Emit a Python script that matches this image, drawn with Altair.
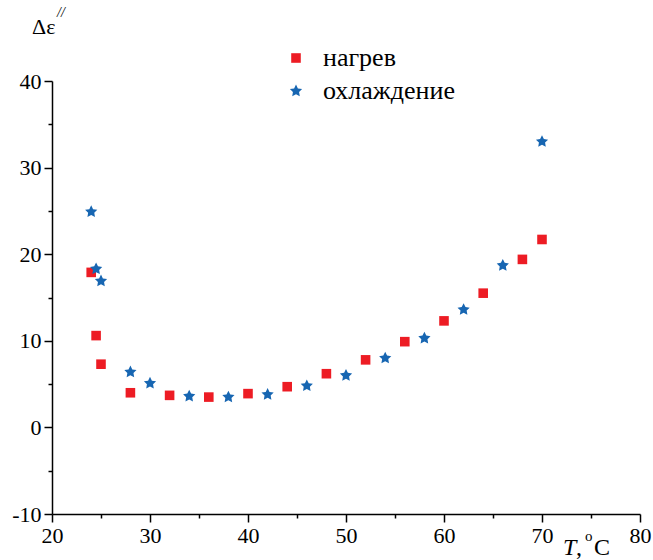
import altair as alt
import pandas as pd

series_names = ["нагрев", "охлаждение"]
series_colors = ["#ED1C24", "#1766B2"]

heat_T = [24, 24.5, 25, 28, 32, 36, 40, 44, 48, 52, 56, 60, 64, 68, 70]
heat_d = [17.9, 10.6, 7.3, 4.0, 3.7, 3.5, 3.9, 4.7, 6.2, 7.8, 9.9, 12.3, 15.5, 19.4, 21.7]
cool_T = [24, 24.5, 25, 28, 30, 34, 38, 42, 46, 50, 54, 58, 62, 66, 70]
cool_d = [24.9, 18.3, 16.9, 6.4, 5.1, 3.6, 3.5, 3.8, 4.8, 6.0, 8.0, 10.3, 13.6, 18.7, 33.0]

x_ticks = list(range(20, 81, 5))
y_ticks = list(range(-10, 41, 5))

STAR = ("M0,-1L0.294,-0.405L0.951,-0.309L0.476,0.155L0.588,0.809L0,0.5"
        "L-0.588,0.809L-0.476,0.155L-0.951,-0.309L-0.294,-0.405Z")

df = pd.DataFrame({
    "T": heat_T + cool_T,
    "d": heat_d + cool_d,
    "s": [series_names[0]] * len(heat_T) + [series_names[1]] * len(cool_T),
})

FONT = "Liberation Serif"

def axis(vals):
    return alt.Axis(
        values=vals,
        labelExpr="datum.value % 10 == 0 ? '' + datum.value : ''",
        tickSize={"condition": {"test": "datum.value % 10 == 0", "value": 8}, "value": 4},
        grid=False, title=None,
        domainColor="black", tickColor="black",
        domainWidth=1.5, tickWidth=1.5,
        labelFont=FONT, labelFontSize=22, labelColor="black",
        labelPadding=3, labelFlush=False, labelOverlap=False,
    )

leg = alt.Legend(title=None, orient="none", legendX=231, legendY=-36,
                 labelFont=FONT, labelFontSize=26, labelColor="black",
                 labelOffset=14, rowPadding=7, padding=0,
                 symbolStrokeWidth=0)

points = alt.Chart(df).mark_point(filled=True, opacity=1, strokeWidth=0).encode(
    x=alt.X("T:Q", scale=alt.Scale(domain=[20, 80], nice=False, zero=False), axis=axis(x_ticks)),
    y=alt.Y("d:Q", scale=alt.Scale(domain=[-10, 40], nice=False, zero=False), axis=axis(y_ticks)),
    color=alt.Color("s:N", scale=alt.Scale(domain=series_names, range=series_colors), legend=leg),
    shape=alt.Shape("s:N", scale=alt.Scale(domain=series_names, range=["square", STAR]), legend=leg),
    size=alt.Size("s:N", scale=alt.Scale(domain=series_names, range=[92, 165]), legend=leg),
)

def txt(s, x, y, size, style="normal"):
    return alt.Chart(pd.DataFrame({"t": [s]})).mark_text(
        align="left", baseline="alphabetic", font=FONT, fontSize=size,
        fontStyle=style, color="black"
    ).encode(x=alt.value(x), y=alt.value(y), text="t:N")

chart = alt.layer(
    points,
    txt("Δε", -20, -47, 22),
    txt("//", 5, -64, 14, "italic"),
    txt("T", 511, 474, 24, "italic"),
    txt(",", 524, 474, 24),
    txt("o", 533, 460, 15),
    txt("C", 542, 474, 24),
).properties(
    width=588, height=433,
    padding={"left": 52, "top": 81, "right": 13, "bottom": 46},
    autosize=alt.AutoSizeParams(type="none"),
).configure_view(stroke=None)

chart.save("out.html", embed_options={"renderer": "svg", "actions": False})
